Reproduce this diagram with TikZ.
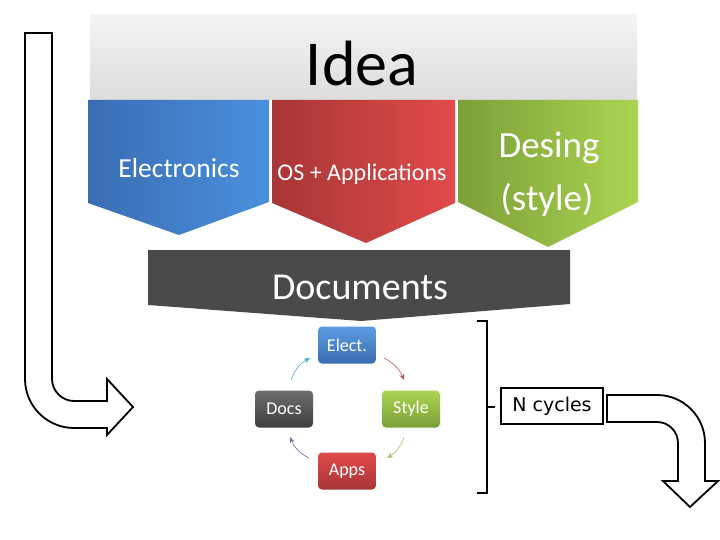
\documentclass[tikz,border=0pt]{standalone}
\usepackage{fontspec}
\setmainfont{Carlito}
\newfontfamily\verd{DejaVu Sans}
\usetikzlibrary{arrows.meta}
\definecolor{ideatop}{HTML}{F4F4F4}
\definecolor{ideabot}{HTML}{DCDCDC}
\definecolor{bluel}{HTML}{3A6DB3}
\definecolor{bluer}{HTML}{4A90DD}
\definecolor{redl}{HTML}{A83636}
\definecolor{redr}{HTML}{E04A4A}
\definecolor{grnl}{HTML}{7C9F38}
\definecolor{grnr}{HTML}{ABD451}
\definecolor{docgray}{HTML}{4A4A4A}
\tikzset{
  wtxt/.style={text=white, inner sep=0pt},
  cbox/.style={rounded corners=4pt, minimum width=58pt, minimum height=37pt, text=white, inner sep=0pt, font=\fontsize{18}{20}\selectfont},
  cyc/.style={line width=0.6pt, -{Stealth[length=6pt,width=5pt]}},
  bigarrow/.style={draw=black, fill=white, line width=1.8pt, line join=miter},
}
\begin{document}
\begin{tikzpicture}[x=1pt,y=-1pt]
\useasboundingbox (0,0) rectangle (720,540);
\fill[white] (0,0) rectangle (720,540);
% Idea bar
\shade[top color=ideatop, bottom color=ideabot] (90,15) rectangle (637,100);
\node[anchor=base, inner sep=0pt, font=\fontsize{64}{70}\selectfont] (idea) at (362,86) {Idea};
% chevrons
\shade[left color=bluel, right color=bluer] (88,100) -- (269,100) -- (269,202) -- (179,235) -- (88,203) -- cycle;
\node[wtxt, anchor=base, font=\fontsize{27.5}{30}\selectfont] (elec) at (179,178) {Electronics};
\shade[left color=redl, right color=redr] (272,100) -- (455,100) -- (455,203) -- (366,243) -- (272,203) -- cycle;
\node[wtxt, anchor=base, font=\fontsize{24}{28}\selectfont] (osapp) at (362,181) {OS + Applications};
\shade[left color=grnl, right color=grnr] (458,100) -- (638,100) -- (638,202) -- (548,247) -- (458,202) -- cycle;
\node[wtxt, anchor=base, font=\fontsize{37}{40}\selectfont] (desing) at (549,158) {Desing};
\node[wtxt, anchor=base, font=\fontsize{37}{40}\selectfont] (style) at (547,211) {(style)};
% Documents
\fill[docgray] (148,250) -- (570,250) -- (570,304) -- (361,321) -- (148,305) -- cycle;
\node[wtxt, anchor=base, font=\fontsize{38}{42}\selectfont] (docs) at (360,299) {Documents};
% cycle
\node[cbox, top color=bluer!90!white, bottom color=bluel] (ce) at (347,345) {Elect.};
\node[cbox, top color=grnr, bottom color=grnl] (cs) at (411,409) {Style};
\node[cbox, top color=redr, bottom color=redl] (ca) at (347,471) {Apps};
\node[cbox, top color=docgray!80!white, bottom color=docgray!85!black] (cd) at (284,409) {Docs};
\coordinate (a1s) at (384,358); \coordinate (a1e) at (404,380);
\coordinate (a2s) at (404,437); \coordinate (a2e) at (387,458);
\coordinate (a3s) at (309,458); \coordinate (a3e) at (290,437);
\coordinate (a4s) at (291,380); \coordinate (a4e) at (310,358);
\draw[cyc, draw={rgb,255:red,192;green,80;blue,77}] (a1s) to[bend left=20] (a1e);
\draw[cyc, draw={rgb,255:red,170;green,190;blue,110}] (a2s) to[bend left=20] (a2e);
\draw[cyc, draw={rgb,255:red,128;green,100;blue,162}] (a3s) to[bend left=20] (a3e);
\draw[cyc, draw={rgb,255:red,75;green,172;blue,198}] (a4s) to[bend left=20] (a4e);
% bracket
\draw[line width=2pt] (477,321) -- (487,321) -- (487,493) -- (477,493);
\draw[line width=2pt] (487,407) -- (495,407);
% N cycles
\node[draw, line width=1.6pt, minimum width=102pt, minimum height=36pt, inner sep=0pt, font=\verd\fontsize{19}{22}\selectfont] (ncyc) at (552,406) {N cycles};
% left arrow
\draw[bigarrow] (25,33) -- (25,379) .. controls (25,406) and (47,428) .. (74,428) -- (107,428) -- (107,435) -- (133,407) -- (107,379) -- (107,401) -- (74,401) .. controls (62,401) and (52,391) .. (52,379) -- (52,33) -- cycle;
% right arrow
\draw[bigarrow] (607,395) -- (657,395) .. controls (683.5,395) and (705,416.5) .. (705,443) -- (705,481) -- (718,481) -- (690,507) -- (663,481) -- (678,481) -- (678,443) .. controls (678,431.4) and (668.6,422) .. (657,422) -- (607,422) -- cycle;
\end{tikzpicture}
\end{document}
